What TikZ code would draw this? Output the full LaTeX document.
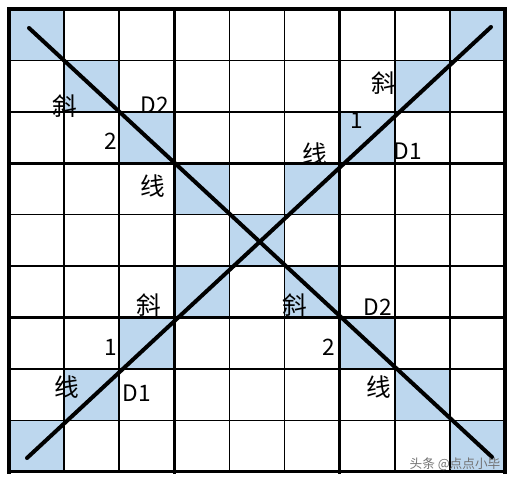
\documentclass[tikz,border=0pt]{standalone}
\usepackage{fontspec}
\setmainfont{Noto Sans CJK SC}
\usetikzlibrary{positioning}
\definecolor{cellblue}{RGB}{189,215,238}

\begin{document}
\begin{tikzpicture}[
      x=0.75pt, y=-0.75pt,
      thingrid/.style={line width=1.1pt},
      thickgrid/.style={line width=2.3pt, line cap=rect},
      diagline/.style={line width=3pt, line cap=round},
      word/.style={font=\fontsize{18.5}{18.5}\selectfont, inner sep=0pt},
      tag/.style={font=\fontsize{17}{17}\selectfont, inner sep=0pt}
    ]
    \useasboundingbox (0,0) rectangle (515,483);
    \def\cw{55.11}
    \def\ch{51.44}

    % Shaded cells on both diagonals
    \foreach \i in {0,...,8} {
        \fill[cellblue] (9+\i*\cw, 9+\i*\ch) rectangle ++(\cw,\ch);
        \fill[cellblue] (9+8*\cw-\i*\cw, 9+\i*\ch) rectangle ++(\cw,\ch);
      }

    % Grid
    \foreach \k in {1,...,8} {
        \draw[thingrid] (9+\k*\cw, 9) -- (9+\k*\cw, 472);
        \draw[thingrid] (9, 9+\k*\ch) -- (505, 9+\k*\ch);
      }
    \foreach \k in {0,3,6,9} {
        \draw[thickgrid] (9+\k*\cw, 9) -- (9+\k*\cw, 472);
        \draw[thickgrid] (9, 9+\k*\ch) -- (505, 9+\k*\ch);
      }

    % Diagonal lines
    \coordinate (tl) at (29,28);
    \coordinate (br) at (492,457);
    \coordinate (tr) at (491,27);
    \coordinate (bl) at (27,458);
    \draw[diagline] (tl) -- (br);
    \draw[diagline] (tr) -- (bl);

    % Top left
    \node[word] (xie1) at (65,106) {斜};
    \node[tag] (dtwoa) at (155,105) {D2};
    \node[tag] (twoa) at (111,141) {2};
    \node[word] (xian1) at (153,186) {线};
    % Top right
    \node[word] (xie2) at (384,83) {斜};
    \node[tag] (onea) at (357,120) {1};
    \node[tag] (donea) at (408,151) {D1};
    \node[word] (xian2) at (315,154) {线};
    % Bottom left
    \node[word] (xie3) at (149,305) {斜};
    \node[tag] (oneb) at (111,347) {1};
    \node[word] (xian3) at (67,387) {线};
    \node[tag] (doneb) at (137,393) {D1};
    % Bottom right
    \node[word] (xie4) at (295,305) {斜};
    \node[tag] (dtwob) at (378,307) {D2};
    \node[tag] (twob) at (329,347) {2};
    \node[word] (xian4) at (379,387) {线};

    \node[font=\fontsize{9.5}{9.5}\selectfont, text=black!55, inner sep=0pt] (stamp) at (455,464) {头条 @点点小毕};
  \end{tikzpicture}
\end{document}
